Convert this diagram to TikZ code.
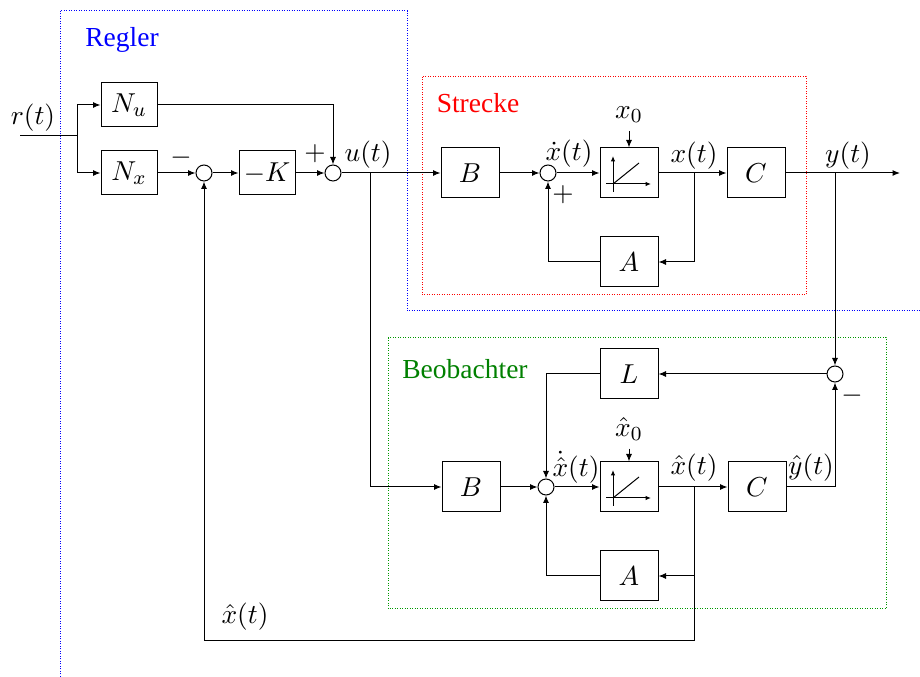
\documentclass[tikz,border=0pt]{standalone}
\usepackage[no-math]{fontspec}
\newfontfamily\lab{Liberation Serif}
\usetikzlibrary{arrows.meta}
\begin{document}
\begin{tikzpicture}[x=0.4pt,y=-0.4pt,
  font=\fontsize{11}{13}\selectfont,
  blk/.style={draw, minimum width=23.2pt, minimum height=20pt, inner sep=0pt},
  sblk/.style={draw, minimum width=22.4pt, minimum height=17.6pt, inner sep=0pt},
  sumc/.style={draw, circle, minimum size=6.4pt, inner sep=0pt},
  con/.style={draw, -{Latex[length=3pt,width=2.4pt]}},
  ax/.style={draw, -{Latex[length=2.2pt,width=1.8pt]}},
  region/.style={dash pattern=on 0.4pt off 0.6pt, line width=0.4pt},
  grouplabel/.style={font=\lab\fontsize{11}{13}\selectfont},
  sig/.style={inner sep=0.5pt}
]
\useasboundingbox (0,0) rectangle (920,677);

% regions
\draw[region, blue] (60,677) -- (60,11) -- (407,11) -- (407,311) -- (920,311);
\draw[region, red] (422,77) rectangle (806,295);
\draw[region, green!60!black] (388,338) rectangle (886,609);
\node[grouplabel, blue] (lreg) at (122,40) {Regler};
\node[grouplabel, red] (lstr) at (478,103) {Strecke};
\node[grouplabel, green!50!black] (lbeo) at (465,369) {Beobachter};

% controller
\coordinate (rin) at (20,136);
\coordinate (rj) at (77,136);
\node[sblk] (Nu) at (129,105) {$N_u$};
\node[sblk] (Nx) at (129,173) {$N_x$};
\node[sumc] (s1) at (204,173) {};
\node[sblk] (K) at (267,173) {$-K$};
\node[sumc] (s2) at (333,173) {};
\coordinate (uj) at (370,173);

% plant
\node[blk] (B1) at (470,173) {$B$};
\node[sumc] (s3) at (548,173) {};
\node[blk] (I1) at (629,173) {};
\node[blk] (C1) at (756,173) {$C$};
\node[blk] (A1) at (629,262) {$A$};
\coordinate (xj) at (694,173);
\coordinate (yj) at (835,173);
\coordinate (yout) at (900,173);
\node[sig] (x0) at (629,115) {$x_0$};

% observer
\node[blk] (L) at (629,374) {$L$};
\node[sumc] (s4) at (835,374) {};
\node[blk] (B2) at (471,487) {$B$};
\node[sumc] (s5) at (546,487) {};
\node[blk] (I2) at (629,487) {};
\node[blk] (C2) at (757,487) {$C$};
\node[blk] (A2) at (629,576) {$A$};
\coordinate (xhj) at (694,487);
\coordinate (fbc) at (694,641);
\node[sig] (xh0) at (629,429) {$\hat{x}_0$};

% integrator glyphs
\foreach \I in {I1,I2}{
  \draw[ax] ([shift={(-16,19)}]\I.center) -- ([shift={(-16,-17)}]\I.center);
  \draw[ax] ([shift={(-23,11)}]\I.center) -- ([shift={(22,11)}]\I.center);
  \draw ([shift={(-16,11)}]\I.center) -- ([shift={(10,-10)}]\I.center);
}

% connectors
\draw (rin) -- (rj);
\draw[con] (rj) |- (Nu);
\draw[con] (rj) |- (Nx);
\draw[con] (Nx) -- (s1);
\draw[con] (s1) -- (K);
\draw[con] (K) -- (s2);
\draw[con] (Nu) -| (s2);
\draw[con] (s2) -- (B1);
\draw[con] (uj) |- (B2);
\draw[con] (B1) -- (s3);
\draw[con] (s3) -- (I1);
\draw[con] (I1) -- (C1);
\draw[con] (C1) -- (yout);
\draw[con] (xj) |- (A1);
\draw[con] (A1) -| (s3);
\draw[con] ([yshift=-2.5pt]x0.south) -- (I1);
\draw[con] (yj) -- (s4);
\draw[con] (s4) -- (L);
\draw[con] (L) -| (s5);
\draw[con] (B2) -- (s5);
\draw[con] (s5) -- (I2);
\draw[con] (I2) -- (C2);
\draw[con] (C2) -| (s4);
\draw[con] (xhj) |- (A2);
\draw[con] (A2) -| (s5);
\draw[con] ([yshift=-2.5pt]xh0.south) -- (I2);
\draw[con] (xhj) -- (fbc) -| (s1);

% signal labels
\node[sig] (lr) at (33,118) {$r(t)$};
\node[sig] (lm1) at (181,158) {$-$};
\node[sig] (lp2) at (315,154) {$+$};
\node[sig] (lu) at (368,155) {$u(t)$};
\node[sig] (lxd) at (569,154) {$\dot{x}(t)$};
\node[sig] (lp3) at (563,195) {$+$};
\node[sig] (lx) at (694,156) {$x(t)$};
\node[sig] (ly) at (848,156) {$y(t)$};
\node[sig] (lxhd) at (576,467) {$\dot{\hat{x}}(t)$};
\node[sig] (lxh) at (694,468) {$\hat{x}(t)$};
\node[sig] (lyh) at (811,468) {$\hat{y}(t)$};
\node[sig] (lm4) at (852,396) {$-$};
\node[sig] (lxhb) at (245,617) {$\hat{x}(t)$};
\end{tikzpicture}
\end{document}
